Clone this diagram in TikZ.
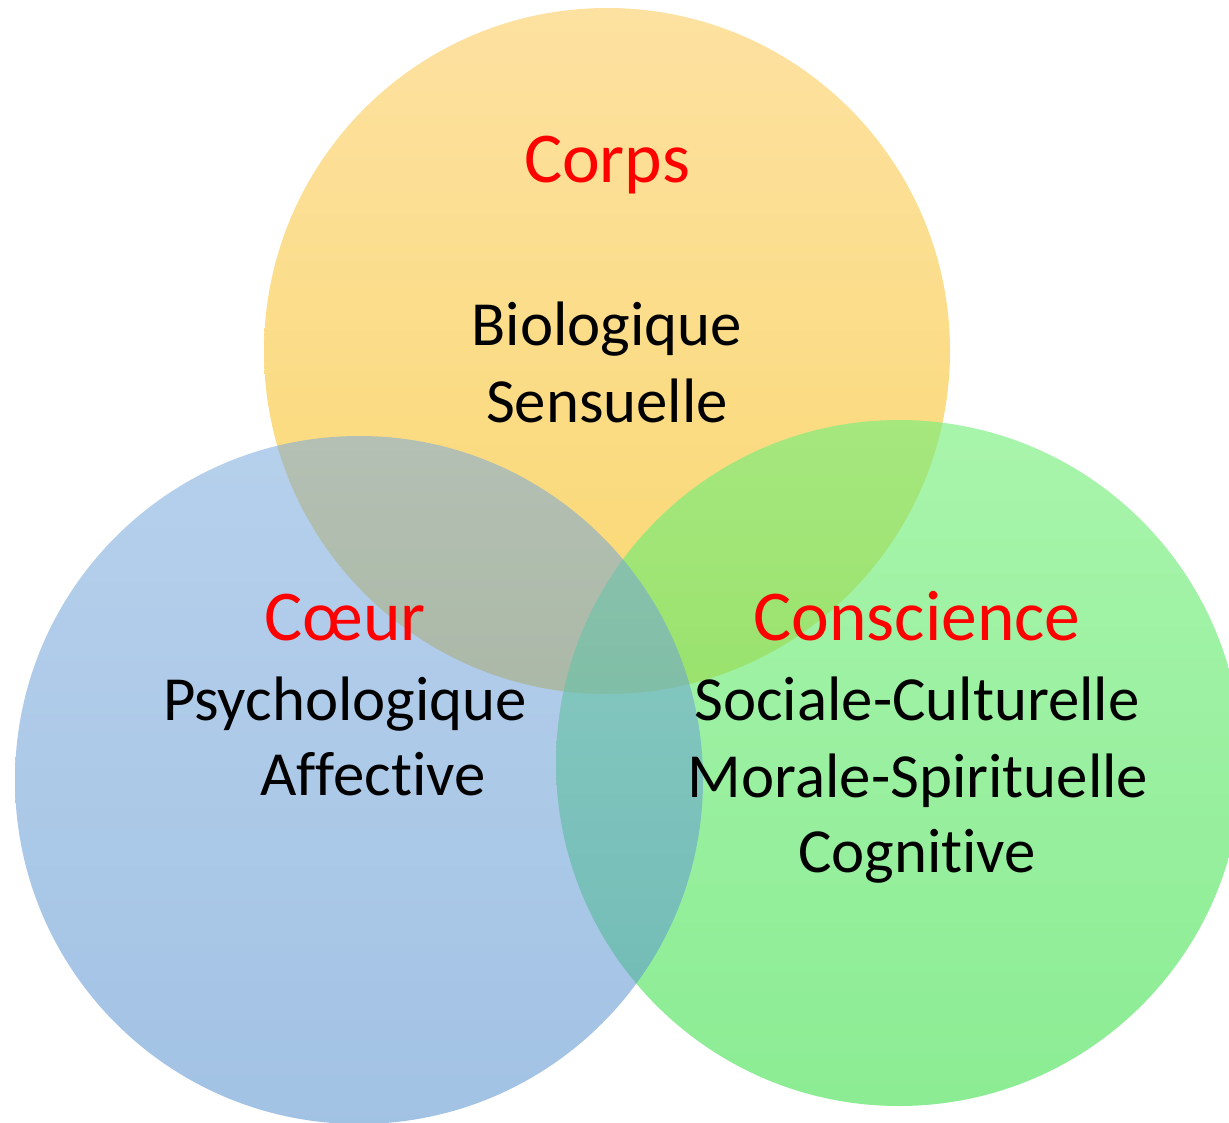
\documentclass[tikz,border=0pt]{standalone}
\usepackage{fontspec}
\setmainfont{Carlito}[Ligatures=NoCommon,RawFeature={-liga;-clig;-calt}]
\newcommand{\nolig}{\kern0pt\relax}
\definecolor{orTop}{RGB}{252,205,97}
\definecolor{orBot}{RGB}{245,190,17}
\definecolor{blTop}{RGB}{122,170,220}
\definecolor{blBot}{RGB}{86,144,206}
\definecolor{grTop}{RGB}{117,238,123}
\definecolor{grBot}{RGB}{72,225,85}
\definecolor{titlered}{RGB}{255,0,0}
\begin{document}
\begin{tikzpicture}[x=1pt,y=-1pt,
  title/.style={anchor=base,text=titlered,font=\fontsize{71.5}{71.5}\selectfont,inner sep=0pt},
  item/.style={anchor=base,text=black,font=\fontsize{62.8}{62.8}\selectfont,inner sep=0pt}]
\useasboundingbox (0,0) rectangle (1229,1123);
\clip (0,0) rectangle (1229,1123);
\shade[top color=orTop,bottom color=orBot,fill opacity=0.6] (607,351) circle (343);
\shade[top color=grTop,bottom color=grBot,fill opacity=0.63] (899,763) circle (343);
\shade[top color=blTop,bottom color=blBot,fill opacity=0.55] (359,780) circle (344);
\node[title] (corps) at (607,183) {Corps};
\node[item] (bio) at (607,345) {Biologique};
\node[item] (sens) at (607,422) {Sensuelle};
\node[title] (coeur) at (345,640) {Cœur};
\node[item] (psy) at (345,720) {Psychologique};
\node[item] (aff) at (373,795) {Affect\nolig ive};
\node[title] (consc) at (917,640) {Conscience};
\node[item] (soc) at (917,720) {Sociale-Culturelle};
\node[item] (mor) at (918,797) {Morale-Spirit\nolig uelle};
\node[item] (cog) at (917,872) {Cognit\nolig ive};
\end{tikzpicture}
\end{document}
